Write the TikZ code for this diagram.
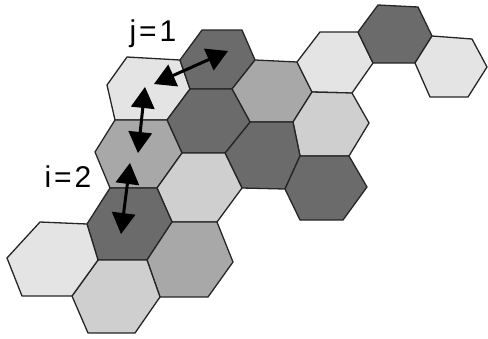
\documentclass[tikz,border=0pt]{standalone}
\usepackage{fontspec}
\setmainfont{Liberation Sans}
\usetikzlibrary{calc}
\definecolor{hdark}{gray}{0.42}
\definecolor{hmed}{gray}{0.66}
\definecolor{hlmed}{gray}{0.81}
\definecolor{hlight}{gray}{0.895}
\definecolor{hedge}{gray}{0.15}
\newcommand\myhead[2]{% tip at #1, pointing away from #2
  \coordinate (hb) at ($(#1)!21pt!(#2)$);
  \fill[black] (#1) -- ($(hb)!12pt!90:(#1)$) -- ($(hb)!12pt!-90:(#1)$) -- cycle;}
\newcommand\mydbl[2]{%
  \draw[shaft] (#1) -- (#2);
  \myhead{#1}{#2}\myhead{#2}{#1}}
\begin{document}
\begin{tikzpicture}[x=1pt,y=-1pt,
  hexa/.style={draw=hedge,line width=1.3pt,line join=round},
  shaft/.style={line width=3pt,shorten <=9pt,shorten >=9pt},
  lab/.style={font=\fontsize{30}{30}\selectfont,inner sep=0pt}]
\useasboundingbox (0,0) rectangle (488,338);
% hexagons
\filldraw[hexa,fill=hlight] (127,57)--(180,60)--(190,89)--(167,120)--(115,120)--(107,85)--cycle; % L1
\filldraw[hexa,fill=hdark]  (202,30)--(242,30)--(255,60)--(232,89)--(190,89)--(180,60)--cycle; % D1
\filldraw[hexa,fill=hmed]   (255,60)--(297,62)--(312,92)--(293,122)--(250,122)--(232,89)--cycle; % M2
\filldraw[hexa,fill=hlight] (320,32)--(358,32)--(373,63)--(352,93)--(312,92)--(297,62)--cycle; % L2
\filldraw[hexa,fill=hdark]  (378,5)--(418,7)--(432,36)--(415,63)--(373,63)--(358,32)--cycle; % D3
\filldraw[hexa,fill=hlight] (432,36)--(472,39)--(487,67)--(468,97)--(430,97)--(415,63)--cycle; % L3
\filldraw[hexa,fill=hlmed]  (312,92)--(352,93)--(369,123)--(349,156)--(300,156)--(293,122)--cycle; % L4
\filldraw[hexa,fill=hdark]  (250,122)--(293,122)--(300,156)--(285,189)--(242,188)--(225,153)--cycle; % D4
\filldraw[hexa,fill=hdark]  (300,156)--(349,156)--(367,187)--(343,220)--(300,220)--(285,189)--cycle; % D5
\filldraw[hexa,fill=hdark]  (190,89)--(232,89)--(250,122)--(225,153)--(182,153)--(167,120)--cycle; % D2
\filldraw[hexa,fill=hmed]   (115,120)--(167,120)--(182,153)--(157,188)--(110,188)--(95,152)--cycle; % M1
\filldraw[hexa,fill=hlmed]  (182,153)--(225,153)--(242,188)--(217,222)--(172,222)--(157,188)--cycle; % L5
\filldraw[hexa,fill=hdark]  (110,188)--(157,188)--(172,222)--(147,260)--(98,260)--(87,224)--cycle; % D6
\filldraw[hexa,fill=hmed]   (172,222)--(217,222)--(233,262)--(208,297)--(160,297)--(147,260)--cycle; % M3
\filldraw[hexa,fill=hlmed]  (98,260)--(147,260)--(160,297)--(135,333)--(88,333)--(72,296)--cycle; % L7
\filldraw[hexa,fill=hlight] (40,222)--(87,224)--(98,260)--(72,296)--(22,296)--(7,258)--cycle; % L6
% arrow end points
\coordinate (a1) at (154,84);
\coordinate (a2) at (228,51);
\coordinate (b1) at (145,87);
\coordinate (b2) at (138,153);
\coordinate (c1) at (130,163);
\coordinate (c2) at (121,234);
\mydbl{a1}{a2}
\mydbl{b1}{b2}
\mydbl{c1}{c2}
% labels
\node[lab] (jl) at (153,34) {j\kern3pt=\kern3pt1};
\node[lab] (il) at (68,177) {i\kern3pt=\kern3pt2};
\end{tikzpicture}
\end{document}
